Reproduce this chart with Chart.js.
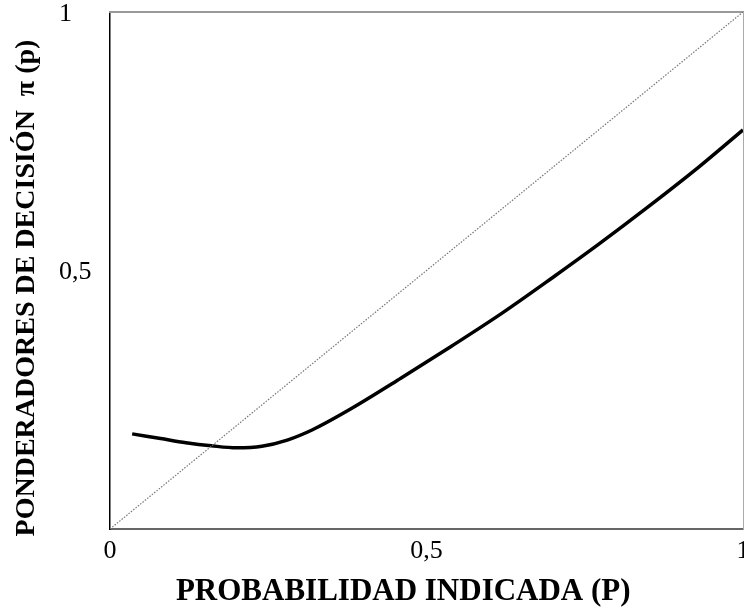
<!DOCTYPE html>
<html>
<head>
<meta charset="utf-8">
<script src="https://cdn.jsdelivr.net/npm/chart.js@4.4.1/dist/chart.umd.min.js"></script>
<style>
  html, body { margin: 0; padding: 0; background: #fff; }
  #wrap { width: 744px; height: 613px; }
</style>
</head>
<body>
<div id="wrap"><canvas id="chart"></canvas></div>
<script>
'use strict';

// values
const probX = [ 0.035, 0.08, 0.12, 0.16, 0.20, 0.24, 0.28, 0.32, 0.38, 0.46, 0.54, 0.62, 0.70, 0.77, 0.85, 0.93, 1.0 ];
const weights = [ 0.184, 0.175, 0.167, 0.161, 0.157, 0.160, 0.172, 0.192, 0.232, 0.292, 0.354, 0.418, 0.487, 0.549, 0.623, 0.700, 0.772 ];
const diagX = [ 0, 1 ];
const xTicks = [ 0, 0.5, 1 ];
const yTicks = [ 0.5, 1 ];

// trailing spaces nudge the centred titles to where the reference puts them
const xTitle = 'PROBABILIDAD INDICADA (P)      ';
const yTitle = 'PONDERADORES DE DECISIÓN  π (p)     ';

const serif = "'Liberation Serif', 'DejaVu Serif', serif";

function fmt( v ) {
	return String( v ).replace( '.', ',' );
}

function toPoints( xs, ys ) {
	return xs.map( function( x, i ) { return { x: x, y: ys[ i ] }; } );
}

new Chart( document.getElementById( 'chart' ), {
	type: 'line',
	data: {
		datasets: [
			{
				data: toPoints( diagX, diagX ),
				borderColor: '#777',
				borderWidth: 1.2,
				borderDash: [ 1.5, 1.5 ],
				pointRadius: 0,
				tension: 0
			},
			{
				data: toPoints( probX, weights ),
				borderColor: '#000',
				borderWidth: 3.5,
				pointRadius: 0,
				cubicInterpolationMode: 'monotone'
			}
		]
	},
	options: {
		responsive: true,
		maintainAspectRatio: false,
		animation: false,
		layout: { padding: { top: 12, right: 1, left: 59, bottom: 0 } },
		plugins: { legend: { display: false }, tooltip: { enabled: false } },
		scales: {
			x: {
				type: 'linear',
				min: 0,
				max: 1,
				grid: { display: false, drawTicks: false },
				border: { display: true, color: '#666', width: 2 },
				afterBuildTicks: function( s ) { s.ticks = xTicks.map( function( v ) { return { value: v }; } ); },
				afterFit: function( s ) { s.height = 84; s.paddingLeft = 0; s.paddingRight = 0; },
				ticks: {
					color: '#000',
					padding: 7,
					maxRotation: 0,
					font: { family: serif, size: 26 },
					callback: function( v ) { return fmt( v ); }
				},
				title: {
					display: true,
					text: xTitle,
					color: '#000',
					padding: { top: 0, bottom: 2 },
					font: { family: serif, size: 31, weight: 'bold' }
				}
			},
			y: {
				type: 'linear',
				min: 0,
				max: 1,
				grid: { display: false, drawTicks: false },
				border: { display: true, color: '#000', width: 1.5 },
				afterBuildTicks: function( s ) { s.ticks = yTicks.map( function( v ) { return { value: v }; } ); },
				afterFit: function( s ) { s.width = 51; s.paddingTop = 0; s.paddingBottom = 0; },
				ticks: {
					color: '#000',
					crossAlign: 'far',
					labelOffset: 2,
					font: { family: serif, size: 26 },
					callback: function( v ) { return fmt( v ); }
				},
				title: {
					display: true,
					text: yTitle,
					color: '#000',
					padding: { top: -49, bottom: 0 },
					font: { family: serif, size: 28, weight: 'bold' }
				}
			},
			x2: {
				type: 'linear',
				position: 'top',
				min: 0,
				max: 1,
				grid: { display: false, drawTicks: false },
				border: { display: true, color: '#999', width: 2 },
				ticks: { display: false },
				afterFit: function( s ) { s.height = 0; }
			},
			y2: {
				type: 'linear',
				position: 'right',
				min: 0,
				max: 1,
				grid: { display: false, drawTicks: false },
				border: { display: true, color: '#aaa', width: 1 },
				ticks: { display: false },
				afterFit: function( s ) { s.width = 0; s.paddingTop = 0; s.paddingBottom = 0; }
			}
		}
	}
} );
</script>
</body>
</html>
